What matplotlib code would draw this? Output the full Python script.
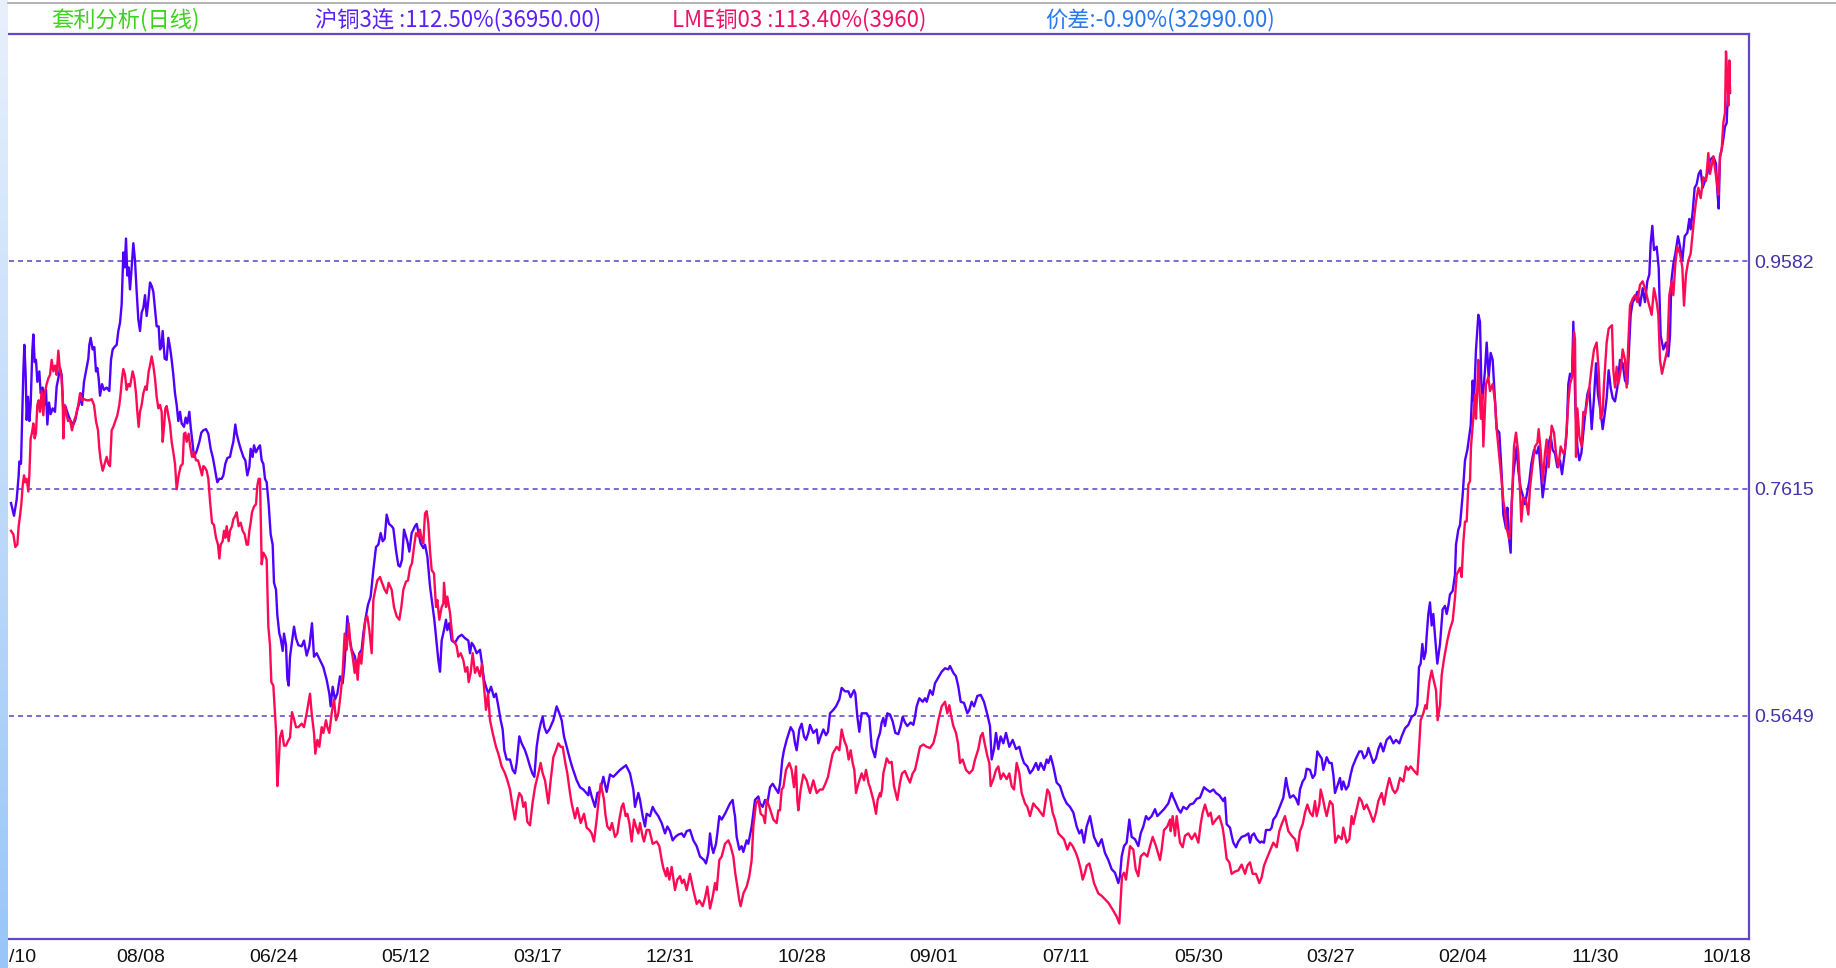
import numpy as np
import matplotlib
matplotlib.use("Agg")
import matplotlib.pyplot as plt
from matplotlib.lines import Line2D
from matplotlib.colors import LinearSegmentedColormap

plt.rcParams['font.family'] = ['Liberation Sans', 'DejaVu Sans']
plt.rcParams['lines.scale_dashes'] = False

# ---------------- data (trading-bar index, normalised price) ----------------
blue_pts = np.array([
 (33,.749),(42,.738),(50,.752),(56,.773),(58,.785),(63,.783),(66,.817),(70,.862),(73,.886),(77,.860),(80,.821),(84,.841),(88,.820),(92,.834),(97,.881),(100,.895),(104,.871),(108,.873),(112,.854),(118,.863),(122,.844),(128,.849),(133,.834),(138,.847),(142,.817),(147,.836),(152,.826),(158,.831),(165,.828),(170,.850),(175,.857),(180,.866),(185,.860),(190,.828),(196,.833),(205,.825),(212,.820),(220,.817),(226,.821),(232,.830),(238,.836),(242,.844),(246,.834),(252,.854),(258,.863),(265,.874),(268,.886),(272,.892),(278,.882),(283,.884),(288,.863),(292,.866),(296,.857),(300,.842),(306,.852),(312,.847),(320,.849),(328,.846),(333,.873),(338,.882),(343,.884),(350,.886),(355,.898),(360,.905),(365,.921),(370,.966),(374,.953),(378,.978),(382,.946),(386,.953),(390,.934),(395,.953),(400,.974),(405,.959),(410,.932),(415,.908),(420,.898),(425,.914),(430,.918),(435,.929),(440,.911),(445,.924),(450,.940),(455,.937),(460,.932),(466,.914),(470,.902),(476,.902),(480,.882),(484,.884),(488,.898),(494,.874),(500,.873),(505,.892),(510,.884),(515,.873),(520,.860),(525,.844),(530,.834),(535,.820),(540,.828),(545,.818),(552,.815),(557,.823),(562,.818),(568,.828),(572,.815),(576,.805),(582,.789),(590,.794),(598,.802),(604,.810),(610,.812),(618,.813),(625,.809),(632,.796),(638,.789),(642,.783),(648,.773),(652,.767),(658,.770),(665,.770),(670,.773),(676,.783),(682,.788),(690,.789),(695,.796),(700,.802),(706,.817),(710,.809),(716,.802),(722,.796),(730,.789),(736,.786),(742,.773),(748,.780),(752,.796),(758,.789),(762,.799),(768,.793),(775,.797),(780,.799),(785,.786),(790,.783),(795,.770),(800,.767),(806,.748),(812,.722),(818,.713),(822,.680),(828,.674),(832,.652),(838,.636),(842,.632),(848,.621),(852,.636),(858,.626),(862,.597),(866,.591),(870,.616),(876,.629),(882,.642),(888,.632),(895,.626),
 (905,.625),(912,.630),(920,.617),(928,.625),(936,.645),(942,.616),(950,.619),(960,.613),(970,.607),(980,.596),(988,.584),(992,.573),(998,.590),(1005,.579),(1012,.584),(1020,.599),(1028,.593),(1033,.607),(1042,.651),(1048,.633),(1055,.622),(1065,.616),(1070,.603),(1078,.619),(1085,.622),(1090,.636),(1096,.648),(1104,.661),(1112,.668),(1120,.691),(1128,.711),(1135,.713),(1142,.723),(1148,.716),(1154,.718),(1160,.739),(1167,.731),(1175,.729),(1180,.727),(1188,.708),(1195,.695),(1200,.694),(1206,.700),(1212,.726),(1218,.720),(1222,.716),(1228,.707),(1235,.723),(1245,.729),(1250,.731),(1255,.724),(1262,.714),(1270,.710),(1275,.713),(1282,.703),(1290,.677),(1298,.659),(1303,.648),(1315,.613),(1320,.603),(1325,.630),(1332,.639),(1338,.648),(1342,.639),(1348,.645),(1355,.630),(1365,.628),(1375,.633),(1385,.635),(1395,.632),(1405,.630),(1410,.619),(1415,.628),(1422,.625),(1430,.619),(1440,.622),(1445,.612),(1452,.596),(1458,.590),(1465,.584),(1473,.590),(1482,.581),(1488,.584),(1495,.573),(1502,.561),(1508,.553),(1513,.535),(1520,.527),(1530,.527),(1538,.518),(1545,.515),(1550,.524),(1558,.547),(1565,.541),(1575,.535),(1582,.529),(1590,.521),(1597,.515),(1603,.512),(1610,.538),(1616,.550),(1622,.558),(1628,.564),(1633,.555),(1640,.550),(1648,.553),(1660,.561),(1670,.573),(1678,.567),(1685,.561),(1692,.547),(1700,.538),(1710,.527),(1716,.521),(1730,.509),(1740,.503),(1750,.501),(1765,.496),
 (1768,.503),(1775,.495),(1785,.486),(1792,.498),(1800,.499),(1810,.512),(1820,.499),(1830,.514),(1840,.512),(1850,.515),(1860,.518),(1878,.522),(1885,.518),(1890,.515),(1900,.501),(1905,.486),(1915,.498),(1920,.492),(1928,.478),(1935,.469),(1940,.480),(1950,.478),(1958,.486),(1965,.482),(1975,.478),(1985,.472),(1995,.463),(2002,.469),(2010,.465),(2018,.457),(2026,.460),(2035,.462),(2045,.463),(2052,.460),(2060,.465),(2070,.466),(2080,.457),(2090,.452),(2100,.443),(2112,.440),(2118,.437),(2125,.446),(2130,.463),(2135,.452),(2140,.446),(2148,.454),(2152,.463),(2158,.478),(2165,.475),(2175,.480),(2190,.489),(2198,.492),(2202,.483),(2205,.478),(2210,.460),(2218,.449),(2225,.452),(2230,.447),(2240,.457),(2245,.454),(2255,.469),(2265,.492),(2275,.495),(2280,.489),(2288,.486),(2295,.492),(2302,.489),(2310,.503),(2318,.506),(2335,.498),(2340,.506),(2347,.527),(2352,.535),(2360,.544),(2372,.555),(2380,.551),(2385,.541),(2390,.535),(2398,.553),(2405,.558),(2412,.547),(2418,.544),(2425,.550),(2430,.557),(2440,.550),(2450,.553),(2455,.541),(2462,.547),(2470,.553),(2478,.548),(2484,.551),(2490,.567),(2500,.570),(2508,.573),(2518,.579),(2525,.589),(2535,.586),(2545,.586),(2552,.581),(2562,.587),(2566,.584),(2572,.564),(2578,.551),(2585,.567),(2592,.567),(2600,.567),(2608,.563),(2615,.538),(2625,.529),(2633,.544),(2640,.550),
 (2645,.559),(2650,.563),(2655,.556),(2662,.567),(2670,.566),(2678,.560),(2686,.550),(2695,.549),(2702,.556),(2708,.564),(2715,.559),(2722,.556),(2732,.559),(2740,.557),(2745,.564),(2750,.573),(2758,.580),(2768,.577),(2775,.580),(2780,.577),(2790,.587),(2798,.583),(2805,.593),(2815,.598),(2825,.603),(2835,.606),(2845,.605),(2850,.608),(2860,.602),(2868,.599),(2875,.590),(2882,.577),(2892,.576),(2902,.567),(2908,.570),(2915,.577),(2922,.573),(2932,.582),(2942,.583),(2952,.577),(2962,.566),(2970,.556),(2975,.527),(2982,.536),(2988,.550),(2995,.536),(3002,.547),(3010,.541),(3018,.550),(3028,.538),(3038,.544),(3048,.536),(3058,.538),(3065,.530),(3072,.524),(3082,.521),(3090,.515),(3098,.518),(3108,.524),(3115,.518),(3122,.524),(3132,.518),(3140,.527),(3145,.524),(3152,.530),(3160,.521),(3170,.507),(3180,.504),(3190,.495),(3200,.489),(3210,.486),(3220,.481),(3230,.469),(3238,.463),(3245,.466),(3252,.455),(3260,.469),(3270,.478),(3282,.460),(3295,.452),(3305,.458),(3315,.446),(3325,.440),(3335,.432),(3345,.429),(3355,.420),(3360,.426),(3365,.443),(3372,.452),(3380,.455),(3388,.475),(3395,.460),(3405,.458),(3415,.452),(3422,.463),(3430,.469),(3438,.478),(3445,.475),(3455,.478),(3465,.484),(3472,.478),(3482,.481),(3492,.484),(3505,.489),
 (3515,.498),(3520,.494),(3525,.491),(3535,.484),(3542,.481),(3550,.486),(3560,.484),(3570,.488),(3580,.489),(3590,.493),(3600,.494),(3612,.503),(3620,.501),(3630,.499),(3640,.501),(3648,.498),(3658,.496),(3670,.491),(3675,.494),(3680,.471),(3690,.468),(3695,.461),(3700,.455),(3708,.451),(3715,.456),(3725,.460),(3735,.461),(3745,.463),(3750,.455),(3755,.461),(3762,.463),(3770,.458),(3780,.455),(3785,.456),(3792,.455),(3798,.466),(3810,.466),(3815,.468),(3820,.475),(3828,.478),(3835,.483),(3842,.488),(3850,.494),(3858,.511),(3862,.504),(3870,.494),(3880,.496),(3888,.493),(3895,.488),(3900,.501),(3908,.508),(3915,.511),(3920,.519),(3930,.518),(3938,.511),(3945,.514),(3952,.534),(3958,.531),(3965,.528),(3970,.518),(3980,.529),(3988,.524),(3995,.524),(4000,.514),(4005,.498),(4012,.504),(4020,.511),(4025,.501),(4030,.508),(4038,.501),(4045,.504),(4052,.514),(4058,.521),(4068,.528),(4078,.534),(4085,.534),(4092,.528),(4100,.531),(4105,.537),(4112,.531),(4120,.524),(4128,.528),(4135,.536),(4142,.541),(4150,.534),(4160,.544),(4170,.547),(4180,.541),(4188,.544),(4198,.541),(4205,.547),(4215,.554),(4225,.557),(4235,.564),(4245,.566),(4252,.574),(4257,.607),(4262,.610),(4267,.627),(4272,.614),(4277,.620),(4280,.634),(4285,.653),(4290,.663),(4295,.643),(4300,.653),(4305,.634),(4312,.610),(4320,.627),(4328,.657),(4335,.660),(4340,.653),(4345,.660),(4350,.670),(4358,.673),(4365,.687),(4368,.713),(4375,.726),
 (4380,.730),(4388,.756),(4395,.786),(4402,.795),(4412,.816),(4418,.855),(4422,.837),(4428,.882),(4435,.912),(4440,.906),(4444,.852),(4448,.840),(4455,.864),(4460,.888),(4466,.858),(4472,.879),(4478,.873),(4490,.813),(4498,.810),(4505,.774),(4510,.739),(4518,.727),(4522,.745),(4526,.721),(4532,.706),(4535,.748),(4540,.774),(4550,.798),(4555,.777),(4562,.762),(4568,.756),(4575,.748),(4582,.759),(4588,.768),(4594,.783),(4602,.795),(4610,.792),(4616,.798),(4622,.777),(4628,.754),(4634,.768),(4640,.783),(4646,.801),(4652,.807),(4658,.795),(4665,.792),(4672,.780),(4680,.786),(4686,.774),(4694,.792),(4700,.810),(4705,.852),(4710,.861),(4716,.858),(4720,.906),(4726,.834),(4732,.798),(4738,.786),(4744,.792),(4750,.810),(4756,.828),(4762,.843),(4768,.849),(4775,.813),(4782,.840),(4788,.870),(4794,.843),(4802,.828),(4808,.813),(4815,.828),(4820,.840),(4826,.864),(4832,.849),(4838,.840),(4845,.837),(4852,.849),(4860,.873),(4868,.870),(4875,.855),(4882,.852),(4888,.888),(4892,.912),(4898,.923),(4905,.926),(4912,.932),(4920,.920),(4928,.935),(4935,.923),(4942,.941),(4948,.947),(4952,.974),(4957,.989),(4962,.968),(4970,.971),(4976,.953),(4982,.894),(4990,.882),(4998,.888),(5005,.876),(5010,.894),(5014,.941),(5020,.956),(5026,.965),(5034,.980),(5040,.971),(5047,.959),(5054,.980),(5062,.983),(5068,.995),(5072,.986),(5078,1.001),(5084,1.022),(5090,1.025),(5096,1.034),(5102,1.037),(5108,1.022),(5115,1.028),(5122,1.034),(5130,1.046),(5140,1.049),(5148,1.043),(5152,1.019),(5156,1.004),(5160,1.049),(5165,1.055),(5170,1.064),(5175,1.075),(5180,1.078),(5182,1.093),(5186,1.111),(5188,1.132),(5190,1.104),
])

red_pts = np.array([
 (33,.725),(40,.722),(46,.711),(52,.713),(56,.729),(60,.738),(64,.748),(68,.764),(72,.773),(76,.767),(80,.770),(85,.759),(88,.773),(92,.805),(96,.810),(100,.818),(104,.805),(108,.810),(112,.834),(116,.838),(120,.828),(125,.846),(130,.825),(134,.844),(140,.852),(145,.857),(150,.860),(155,.873),(160,.863),(165,.868),(170,.860),(175,.881),(180,.863),(184,.860),(188,.841),(190,.805),(194,.834),(198,.828),(204,.820),(210,.821),(216,.812),(222,.820),(228,.825),(235,.834),(240,.844),(246,.838),(252,.839),(260,.838),(268,.838),(275,.839),(282,.834),(288,.820),(294,.812),(298,.796),(302,.786),(308,.777),(314,.783),(320,.789),(325,.783),(330,.781),(335,.812),(340,.815),(346,.820),(352,.825),(358,.834),(362,.844),(366,.857),(370,.865),(375,.860),(380,.847),(385,.852),(390,.850),(398,.863),(403,.857),(408,.844),(412,.828),(416,.815),(420,.828),(425,.834),(430,.844),(436,.850),(440,.847),(446,.863),(450,.868),(455,.876),(460,.868),(465,.857),(470,.841),(475,.831),(480,.834),(485,.828),(488,.802),(492,.815),(496,.831),(500,.833),(505,.825),(510,.817),(515,.802),(520,.793),(525,.783),(530,.761),(536,.773),(542,.781),(548,.783),(552,.809),(556,.810),(560,.802),(566,.809),(570,.799),(576,.789),(582,.793),(588,.786),(594,.786),(600,.780),(606,.773),(610,.781),(614,.780),(620,.777),(625,.770),(630,.751),(636,.732),(642,.730),(648,.719),(654,.713),(658,.701),(662,.713),(668,.716),(672,.725),(676,.719),(680,.729),(686,.716),(690,.725),(696,.729),(700,.735),(706,.738),(710,.741),(716,.729),(722,.732),(728,.725),(734,.722),(740,.713),(744,.713),(748,.725),(752,.732),(756,.741),(762,.746),(768,.748),(772,.764),(776,.770),(780,.770),(785,.696),(790,.706),(796,.703),(800,.700),(805,.642),(810,.626),(814,.594),(820,.591),(824,.571),(828,.552),(832,.504),(836,.523),(840,.546),(846,.552),(852,.539),(858,.539),(864,.543),(870,.546),(876,.568),(882,.562),(888,.555),(895,.555),
 (905,.558),(912,.555),(920,.567),(930,.584),(935,.567),(942,.550),(946,.532),(952,.544),(958,.538),(965,.555),(970,.550),(978,.561),(982,.555),(988,.550),(995,.567),(1002,.579),(1008,.561),(1015,.567),(1022,.584),(1028,.602),(1034,.636),(1040,.622),(1046,.645),(1052,.625),(1058,.616),(1064,.602),(1068,.613),(1073,.596),(1078,.619),(1084,.610),(1090,.630),(1096,.648),(1102,.651),(1108,.639),(1115,.619),(1120,.665),(1126,.674),(1132,.682),(1140,.685),(1146,.680),(1154,.674),(1160,.671),(1166,.680),(1175,.674),(1182,.659),(1190,.651),(1198,.648),(1204,.659),(1210,.674),(1218,.681),(1224,.682),(1230,.693),(1236,.697),(1242,.711),(1248,.723),(1255,.720),(1260,.726),(1266,.716),(1270,.714),(1275,.740),(1280,.742),(1285,.731),(1290,.708),(1295,.691),(1302,.688),(1308,.659),(1312,.665),(1318,.648),(1325,.659),(1330,.662),(1332,.680),(1338,.659),(1342,.668),(1350,.654),(1358,.630),(1365,.628),(1370,.625),(1375,.616),(1382,.619),(1390,.613),(1396,.603),(1402,.607),(1406,.594),(1412,.602),(1418,.619),(1425,.602),(1432,.607),(1440,.599),(1446,.610),(1452,.590),(1458,.570),(1464,.584),(1470,.561),(1478,.550),(1488,.538),(1495,.532),(1505,.521),(1515,.515),(1522,.509),(1530,.501),(1538,.486),(1545,.475),(1552,.490),(1558,.498),(1565,.495),(1570,.486),(1576,.490),(1582,.473),(1590,.470),(1598,.490),(1605,.503),(1615,.515),(1622,.524),(1628,.515),(1635,.509),(1645,.489),(1652,.509),(1660,.529),(1668,.535),(1675,.541),(1682,.538),(1688,.538),(1696,.524),(1702,.515),(1710,.498),(1715,.489),(1725,.476),(1732,.485),(1742,.472),(1752,.480),(1760,.468),
 (1768,.466),(1775,.463),(1782,.456),(1790,.475),(1795,.489),(1802,.506),(1808,.498),(1812,.492),(1816,.480),(1822,.469),(1830,.466),(1836,.472),(1845,.460),(1852,.463),(1858,.475),(1865,.486),(1870,.489),(1877,.478),(1882,.480),(1888,.472),(1895,.456),(1902,.475),(1908,.469),(1915,.463),(1920,.472),(1928,.460),(1932,.456),(1940,.466),(1948,.466),(1958,.454),(1970,.456),(1978,.452),(1985,.440),(1990,.433),(1998,.426),(2002,.433),(2008,.423),(2015,.434),(2025,.414),(2032,.423),(2040,.426),(2046,.420),(2052,.423),(2060,.414),(2070,.428),(2080,.414),(2085,.408),(2090,.402),(2098,.405),(2108,.400),(2115,.407),(2122,.417),(2130,.398),(2138,.408),(2145,.420),(2150,.414),(2158,.440),(2165,.443),(2175,.454),(2185,.457),(2192,.452),(2200,.443),(2206,.428),(2212,.417),(2218,.405),(2222,.400),(2230,.411),(2240,.417),(2248,.426),(2255,.440),(2260,.469),(2268,.489),(2275,.492),(2282,.480),(2290,.478),(2295,.472),(2300,.492),(2308,.486),(2320,.475),(2330,.472),(2335,.483),(2340,.483),(2345,.501),(2350,.503),(2358,.518),(2368,.524),(2375,.518),(2382,.503),(2388,.521),(2392,.492),(2395,.483),(2402,.501),(2410,.514),(2420,.509),(2430,.498),(2440,.509),(2450,.498),(2460,.501),(2468,.501),(2476,.506),(2484,.512),(2490,.521),(2498,.532),(2510,.538),(2518,.535),(2525,.553),(2532,.544),(2540,.538),(2546,.527),(2552,.535),(2558,.524),(2563,.518),(2568,.498),(2575,.506),(2585,.515),(2592,.509),(2598,.518),(2606,.506),(2610,.503),(2620,.492),(2628,.480),(2633,.492),(2640,.498),
 (2642,.495),(2646,.501),(2650,.515),(2655,.521),(2660,.528),(2668,.524),(2675,.525),(2682,.504),(2692,.492),(2700,.507),(2706,.515),(2715,.517),(2722,.512),(2730,.507),(2738,.515),(2745,.518),(2752,.527),(2760,.538),(2770,.540),(2780,.538),(2790,.537),(2800,.541),(2808,.550),(2815,.561),(2825,.573),(2835,.577),(2842,.567),(2848,.574),(2854,.564),(2860,.556),(2868,.550),(2874,.541),(2880,.524),(2888,.527),(2898,.518),(2908,.515),(2918,.518),(2925,.527),(2935,.536),(2942,.547),(2948,.550),(2954,.541),(2962,.530),(2968,.524),(2972,.504),(2980,.510),(2988,.518),(2995,.521),(3002,.510),(3010,.515),(3020,.510),(3028,.515),(3035,.504),(3042,.501),(3050,.524),(3058,.515),(3065,.498),(3075,.489),(3082,.486),(3090,.478),(3100,.489),(3108,.486),(3115,.484),(3122,.481),(3130,.478),(3142,.501),(3148,.498),(3158,.481),(3165,.475),(3175,.463),(3185,.460),(3192,.458),(3202,.449),(3210,.455),(3218,.452),(3228,.446),(3235,.440),(3242,.432),(3248,.423),(3255,.429),(3260,.435),(3268,.437),(3275,.429),(3282,.420),(3295,.411),(3305,.409),(3315,.406),(3325,.403),(3338,.397),(3350,.391),(3358,.385),(3362,.406),(3366,.426),(3372,.429),(3378,.423),(3385,.440),(3390,.452),(3400,.449),(3407,.432),(3415,.426),(3422,.443),(3432,.446),(3442,.443),(3450,.452),(3458,.460),(3468,.452),(3480,.440),(3485,.449),(3492,.466),(3502,.469),(3510,.475),
 (3512,.465),(3518,.478),(3525,.461),(3530,.478),(3540,.455),(3548,.451),(3555,.461),(3565,.463),(3575,.458),(3585,.463),(3595,.455),(3602,.471),(3608,.481),(3615,.488),(3625,.478),(3632,.481),(3638,.471),(3648,.475),(3658,.478),(3668,.468),(3673,.458),(3680,.441),(3688,.438),(3695,.428),(3705,.430),(3715,.431),(3725,.436),(3735,.428),(3742,.435),(3750,.438),(3758,.428),(3768,.428),(3778,.420),(3785,.425),(3792,.435),(3800,.441),(3810,.448),(3820,.455),(3830,.451),(3838,.465),(3845,.471),(3855,.478),(3865,.465),(3875,.461),(3885,.458),(3892,.448),(3900,.465),(3908,.471),(3915,.481),(3922,.488),(3930,.481),(3938,.478),(3945,.491),(3950,.478),(3958,.488),(3962,.501),(3968,.494),(3975,.484),(3980,.478),(3990,.491),(3998,.488),(4002,.471),(4006,.455),(4015,.461),(4025,.458),(4030,.468),(4040,.455),(4048,.458),(4055,.478),(4060,.471),(4070,.484),(4078,.494),(4085,.491),(4092,.484),(4100,.488),(4110,.481),(4120,.473),(4128,.481),(4135,.491),(4145,.498),(4152,.488),(4160,.501),(4168,.511),(4178,.501),(4185,.498),(4192,.501),(4200,.511),(4210,.508),(4218,.521),(4225,.518),(4232,.521),(4240,.518),(4252,.514),(4258,.541),(4262,.561),(4270,.567),(4276,.574),(4280,.571),(4288,.594),(4295,.604),(4300,.597),(4308,.587),(4313,.561),(4320,.574),(4325,.600),(4332,.614),(4342,.630),(4350,.640),(4358,.647),(4365,.667),(4370,.687),(4380,.693),
 (4385,.685),(4390,.715),(4395,.733),(4400,.733),(4405,.765),(4410,.768),(4413,.798),(4418,.816),(4425,.843),(4428,.822),(4432,.849),(4435,.873),(4440,.837),(4443,.822),(4447,.843),(4450,.798),(4458,.852),(4465,.858),(4470,.846),(4478,.852),(4485,.837),(4490,.813),(4505,.768),(4510,.751),(4515,.742),(4520,.727),(4528,.718),(4535,.745),(4538,.768),(4542,.798),(4548,.810),(4555,.792),(4558,.774),(4564,.733),(4570,.754),(4578,.751),(4585,.739),(4590,.762),(4598,.783),(4605,.798),(4612,.801),(4616,.813),(4622,.795),(4628,.768),(4635,.792),(4640,.804),(4646,.780),(4655,.816),(4662,.810),(4668,.792),(4675,.780),(4682,.798),(4690,.792),(4695,.795),(4700,.813),(4705,.837),(4710,.852),(4716,.858),(4722,.897),(4725,.891),(4728,.789),(4732,.831),(4738,.807),(4745,.798),(4750,.828),(4755,.825),(4760,.834),(4768,.849),(4775,.867),(4782,.882),(4790,.888),(4796,.864),(4802,.822),(4808,.828),(4812,.852),(4820,.888),(4826,.900),(4836,.903),(4840,.864),(4845,.849),(4850,.867),(4855,.852),(4862,.864),(4868,.882),(4875,.873),(4880,.849),(4885,.888),(4890,.920),(4898,.926),(4905,.929),(4912,.923),(4920,.938),(4928,.941),(4935,.935),(4940,.929),(4945,.923),(4955,.912),(4962,.935),(4970,.923),(4975,.912),(4980,.873),(4986,.861),(4995,.873),(5002,.882),(5008,.929),(5015,.941),(5020,.929),(5026,.956),(5032,.971),(5040,.965),(5047,.953),(5052,.920),(5058,.947),(5065,.959),(5072,.965),(5076,.977),(5082,.995),(5088,1.010),(5095,1.022),(5102,1.013),(5110,1.031),(5118,1.028),(5125,1.052),(5130,1.034),(5140,1.049),(5150,1.028),(5155,1.016),(5160,1.049),(5165,1.055),(5170,1.078),(5175,1.087),(5178,1.140),(5182,1.117),(5185,1.093),(5188,1.132),(5190,1.105),
])

blue_x, blue_y = blue_pts[:, 0], blue_pts[:, 1]
red_x, red_y = red_pts[:, 0], red_pts[:, 1]

level_values = [0.5649, 0.7615, 0.9582]
level_labels = ['0.5649', '0.7615', '0.9582']
tick_pos = [27, 423, 820, 1216, 1613, 2009, 2406, 2802, 3199, 3595, 3992, 4388, 4785, 5181]
tick_labels = ['/10', '08/08', '06/24', '05/12', '03/17', '12/31', '10/28',
               '09/01', '07/11', '05/30', '03/27', '02/04', '11/30', '10/18']
header_texts = ['套利分析(日线)', '沪铜3连 :112.50%(36950.00)',
                'LME铜03 :113.40%(3960)', '价差:-0.90%(32990.00)']

# ---------------- figure ----------------
W, H = 1836, 968
fig = plt.figure(figsize=(W / 100, H / 100), dpi=100, facecolor='white')
ax = fig.add_axes([9 / W, 1 - 939 / H, (1749 - 9) / W, (939 - 34) / H])
ax.set_facecolor('white')

frame_c = '#6347c9'
for v in level_values:
    ax.axhline(v, color='#5a3ec4', lw=1.1, dashes=(3.6, 2.9), zorder=1)

ax.plot(blue_x, blue_y, color='#5000ff', lw=1.7, zorder=3)
ax.plot(red_x, red_y, color='#ff0a55', lw=1.7, zorder=4)

ax.set_xlim(27, 5247)
ax.set_ylim(0.3716, 1.1551)

ax.yaxis.tick_right()
ax.set_yticks(level_values)
ax.set_yticklabels(level_labels)
ax.tick_params(axis='y', length=0, pad=3.5, labelsize=14, labelcolor='#4433a8')
ax.set_xticks(tick_pos)
ax.set_xticklabels(tick_labels)
ax.tick_params(axis='x', length=0, pad=7, labelsize=14, labelcolor='#111111')
ax.get_xticklabels()[0].set_horizontalalignment('left')

ax.spines['left'].set_visible(False)
for s in ('top', 'bottom', 'right'):
    ax.spines[s].set_color(frame_c)
    ax.spines[s].set_linewidth(1.6)

# header line and texts
fig.add_artist(Line2D([8 / W, 1], [1 - 2.7 / H] * 2, color='#a6a6a6', lw=1.2))
header_centers = [125, 458, 799, 1160]
header_colors = ['#3cd21e', '#5a20f5', '#ee1166', '#2a78ee']
for txt, cx, col in zip(header_texts, header_centers, header_colors):
    fig.text(cx / W, 1 - 20 / H, txt, ha='center', va='center', fontsize=16,
             color=col, family=['Noto Sans CJK SC', 'DejaVu Sans'])

# light blue window strip on the left
sax = fig.add_axes([0, 0, 8 / W, 1])
cmap = LinearSegmentedColormap.from_list('strip', ['#e8f0fc', '#98c6f8'])
sax.imshow(np.linspace(0, 1, 256).reshape(-1, 1), aspect='auto', cmap=cmap)
sax.axis('off')

fig.savefig('out.png', dpi=100, facecolor='white')
